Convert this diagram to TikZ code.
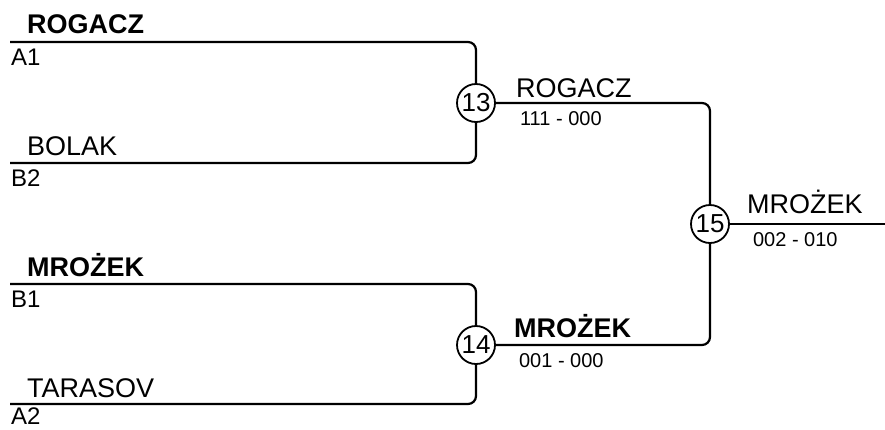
\documentclass[tikz,border=0pt]{standalone}
\usepackage{fontspec}
\setmainfont{Liberation Sans}
\usetikzlibrary{positioning}

\begin{document}
\begin{tikzpicture}[x=1pt,y=-1pt,line width=2.2pt,
  match/.style={circle,draw,line width=1.8pt,minimum size=38pt,inner sep=0pt,font=\fontsize{26}{26}\selectfont},
  player/.style={anchor=base west,inner sep=0pt,font=\fontsize{27}{27}\selectfont},
  winner/.style={player,font=\fontsize{27}{27}\selectfont\bfseries},
  slot/.style={anchor=north west,inner sep=0pt,font=\fontsize{24}{24}\selectfont},
  score/.style={anchor=north west,inner sep=0pt,font=\fontsize{20}{20}\selectfont}]

\useasboundingbox (0,0) rectangle (885,429);

% match circles
\node[match] (m13) at (476,103) {13};
\node[match] (m14) at (476,345) {14};
\node[match] (m15) at (710,224) {15};

% line starts
\coordinate (a1) at (10,42);
\coordinate (b2) at (10,163);
\coordinate (b1) at (10,284);
\coordinate (a2) at (10,404);
\coordinate (fin) at (885,224);

% bracket lines
\draw[rounded corners=8pt] (a1) -| (m13);
\draw[rounded corners=8pt] (b2) -| (m13);
\draw[rounded corners=8pt] (b1) -| (m14);
\draw[rounded corners=8pt] (a2) -| (m14);
\draw[rounded corners=8pt] (m13) -| (m15);
\draw[rounded corners=8pt] (m14) -| (m15);
\draw (m15) -- (fin);

% players
\node[winner] (pa1) at (26,33) {ROGACZ};
\node[slot] (sa1) at (10,48) {A1};
\node[player] (pb2) at (26,155) {BOLAK};
\node[slot] (sb2) at (10,169) {B2};
\node[winner] (pb1) at (26,276) {MROŻEK};
\node[slot] (sb1) at (10,290) {B1};
\node[player] (pa2) at (26,397) {TARASOV};
\node[slot] (sa2) at (10,407) {A2};

% winners and scores
\node[player] (w13) at (515,97) {ROGACZ};
\node[score] (r13) at (519,110) {111 - 000};
\node[winner] (w14) at (513,337) {MROŻEK};
\node[score] (r14) at (518,352) {001 - 000};
\node[player] (w15) at (746,213) {MROŻEK};
\node[score] (r15) at (752,231) {002 - 010};
\end{tikzpicture}
\end{document}
